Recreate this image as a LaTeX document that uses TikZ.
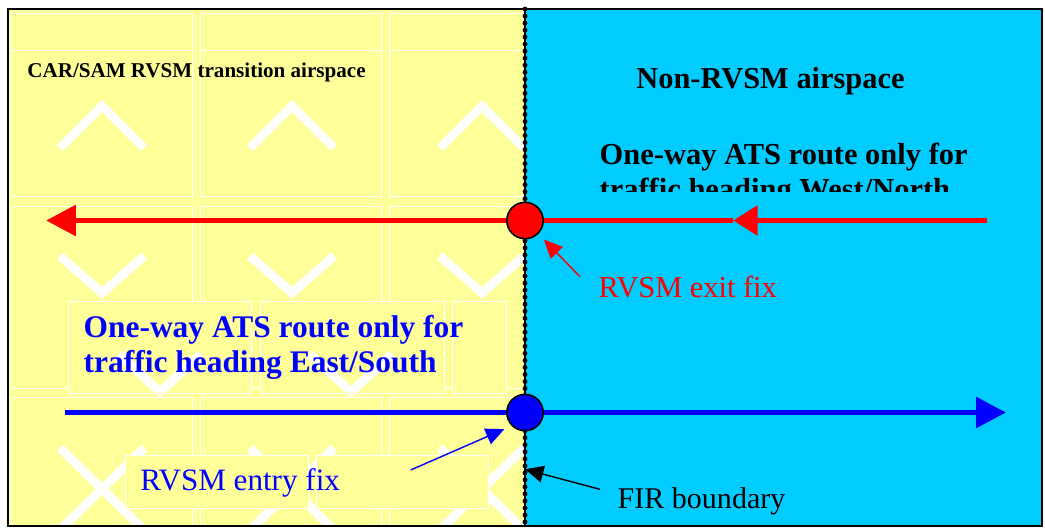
\documentclass[tikz,border=0pt]{standalone}
\usepackage{fontspec}
\setmainfont{Liberation Serif}
\usetikzlibrary{arrows.meta,calc}
\definecolor{transyellow}{HTML}{FFFF99}
\definecolor{nonrvsm}{HTML}{00CCFF}
\definecolor{exitred}{HTML}{FF0000}
\definecolor{entryblue}{HTML}{0000FF}
\tikzset{
  %% background
  tile/.style     = {draw=white, line width=0.5pt},
  chev/.style     = {draw=white, line width=5pt, line join=miter},
  %% routes and fixes
  route/.style    = {line width=3.3pt},
  bigtip/.style   = {-{Triangle[length=17pt,width=17pt]}},
  midtip/.style   = {-{Triangle[length=14pt,width=16.4pt]}},
  fix/.style      = {circle, draw=black, line width=0.9pt, minimum size=20.7pt, inner sep=0pt},
  ptr/.style      = {line width=0.8pt, -{Triangle[length=10.5pt,width=9.5pt]}},
  %% text
  lbl/.style      = {anchor=base west, inner sep=0pt},
  head/.style     = {anchor=base west, inner sep=0pt, align=left},
}

\begin{document}
\begin{tikzpicture}[x=0.02cm, y=-0.02cm]
\useasboundingbox (0,0) rectangle (1045,529);

%% ============ airspaces ============
\fill[transyellow] (8,9) rectangle (525,526);
\fill[nonrvsm] (525,9) rectangle (1042,526);

%% ============ tiled background of the transition airspace ============
\begin{scope}
  \clip (8,9) rectangle (525,526);
  \foreach \tx in {11.7,200,389.3} {
    \draw[tile] (\tx,13.3) rectangle ++(181,183.4);
    \draw[tile] (\tx,50) -- ++(181,0);
    \draw[tile] (\tx,206) rectangle ++(181,182);
    \draw[tile] (\tx,397) rectangle ++(181,140);
  }
  \foreach \cx in {102,292,482} {
    \draw[chev] (\cx-42,148) -- (\cx,106) -- (\cx+42,148);
    \draw[chev] (\cx-42,256) -- (\cx,293) -- (\cx+42,256);
    \draw[chev] (\cx-42,448) -- (\cx+42,530);
    \draw[chev] (\cx+42,448) -- (\cx-42,530);
  }
  % boxes under the east/south text
  \foreach \bx/\bw in {68.3/183.4, 260/184.3, 452.3/54.4}
    \draw[tile, fill=transyellow] (\bx,301.7) rectangle ++(\bw,91.3);
  \foreach \cx in {160,351}
    \draw[chev] (\cx-41,354) -- (\cx,392) -- (\cx+41,354);
  % boxes under the entry fix label
  \draw[tile, fill=transyellow] (125,455) rectangle (308,508);
  \draw[tile, fill=transyellow] (316,455) rectangle (488,508);
\end{scope}

%% ============ FIR boundary ============
\coordinate (firtop) at (525,9);
\coordinate (firbot) at (525,526);
\draw[black, line width=0.6pt] (firtop) -- (firbot);
\draw[black, line width=2.8pt, line cap=round, dash pattern=on 0pt off 4pt] (firtop) -- (firbot);

\draw[black, line width=1.4pt] (8,9) rectangle (1042,526);

%% ============ fixes ============
\node[fix, fill=exitred] (exitfix) at (525,220.5) {};
\node[fix, fill=entryblue] (entryfix) at (525,412.5) {};

%% ============ routes ============
\coordinate (redE) at (987,220.5);
\coordinate (redM) at (733,220.5);
\coordinate (redW) at (46,220.5);
\draw[route, exitred, midtip] (redE) -- (redM);
\draw[route, exitred] (redM) -- (exitfix);
\draw[route, exitred, bigtip] (exitfix) -- (redW);

\coordinate (blueW) at (65,412.5);
\coordinate (blueE) at (1006,412.5);
\draw[route, entryblue] (blueW) -- (entryfix);
\draw[route, entryblue, bigtip] (entryfix) -- (blueE);

%% ============ labels ============
\node[head, font=\bfseries\fontsize{12}{14}\selectfont] (carsam) at (27,77.3) {CAR/SAM RVSM transition airspace};
\node[head, font=\bfseries\fontsize{17.3}{20}\selectfont] (nonlbl) at (636,88.3) {Non-RVSM airspace};
\begin{scope}
  \clip (560,120) rectangle (1030,191.7);
  \node[head, font=\bfseries\fontsize{17.35}{19.8}\selectfont] (westlbl) at (599.3,199) {One-way ATS route only for\\traffic heading West/North};
\end{scope}
\node[head, text=entryblue, font=\bfseries\fontsize{17.9}{19.8}\selectfont] (eastlbl) at (83.3,372) {One-way ATS route only for\\traffic heading East/South};

\node[lbl, text=exitred, font=\fontsize{17.3}{20}\selectfont] (exitlbl) at (598.3,297) {RVSM exit fix};
\node[lbl, text=entryblue, font=\fontsize{17.7}{20}\selectfont] (entrylbl) at (140,490) {RVSM entry fix};
\node[lbl, font=\fontsize{17.1}{20}\selectfont] (firlbl) at (617.3,508) {FIR boundary};

%% ============ pointers ============
\coordinate (exittail) at (580,276.7);
\coordinate (entrytail) at (410.7,470);
\coordinate (firtail) at (600,489.3);
\coordinate (firpt) at (525,469.3);
\draw[ptr, exitred, shorten >=4.5pt] (exittail) -- (exitfix.south east);
\draw[ptr, entryblue, shorten >=4.5pt] (entrytail) -- (entryfix.south west);
\draw[ptr, black] (firtail) -- (firpt);

\end{tikzpicture}
\end{document}
